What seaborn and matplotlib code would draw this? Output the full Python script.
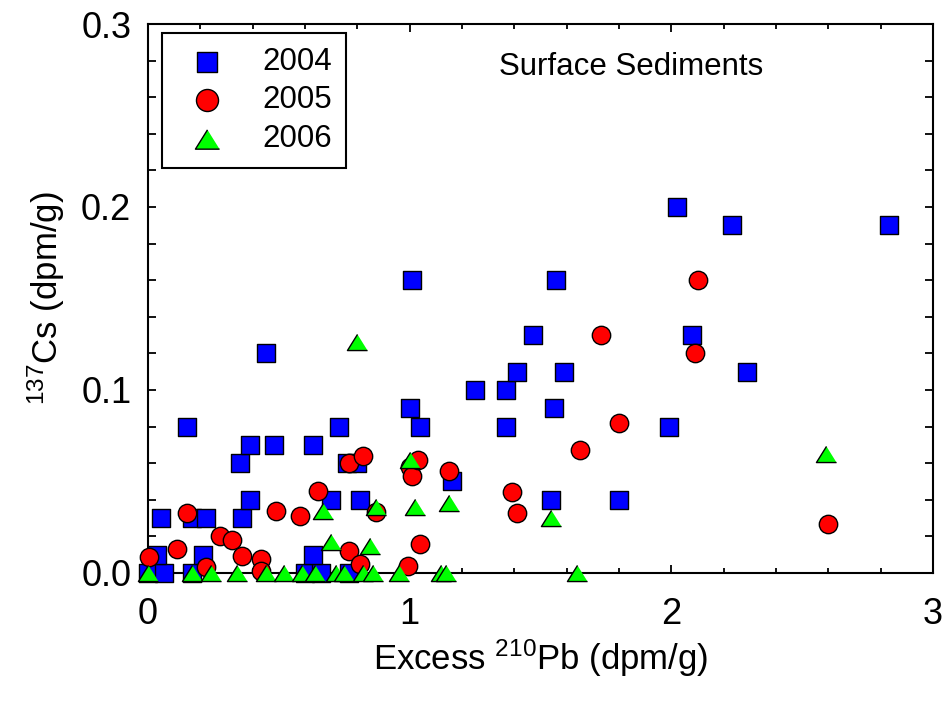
import matplotlib
matplotlib.use("Agg")
import matplotlib.pyplot as plt
import seaborn as sns
import pandas as pd
from matplotlib.ticker import MultipleLocator, FormatStrFormatter

# ---- data ----
x_2004 = [0.00, 0.06, 0.17, 0.035, 0.05, 0.15, 0.17, 0.22, 0.21, 0.35, 0.36, 0.39, 0.39, 0.45,
          0.48, 0.60, 0.66, 0.63, 0.63, 0.70, 0.73, 0.76, 0.80, 0.81, 0.77, 1.00, 1.01, 1.04,
          1.16, 1.25, 1.37, 1.37, 1.41, 1.47, 1.54, 1.55, 1.56, 1.59, 1.80, 1.99, 2.02, 2.08,
          2.23, 2.29, 2.83]
y_2004 = [0.00, 0.00, 0.00, 0.01, 0.03, 0.08, 0.03, 0.03, 0.01, 0.06, 0.03, 0.04, 0.07, 0.12,
          0.07, 0.00, 0.00, 0.01, 0.07, 0.04, 0.08, 0.06, 0.06, 0.04, 0.00, 0.09, 0.16, 0.08,
          0.05, 0.10, 0.10, 0.08, 0.11, 0.13, 0.04, 0.09, 0.16, 0.11, 0.04, 0.08, 0.20, 0.13,
          0.19, 0.11, 0.19]

x_2005 = [0.005, 0.11, 0.15, 0.22, 0.275, 0.32, 0.36, 0.43, 0.43, 0.49, 0.58, 0.65, 0.77, 0.82,
          0.87, 0.77, 0.81, 0.995, 1.00, 1.01, 1.03, 1.04, 1.15, 1.39, 1.41, 1.65, 1.73, 1.80,
          2.09, 2.10, 2.60]
y_2005 = [0.009, 0.013, 0.033, 0.003, 0.020, 0.018, 0.0095, 0.0075, 0.001, 0.034, 0.031, 0.045,
          0.060, 0.064, 0.0335, 0.012, 0.005, 0.004, 0.058, 0.053, 0.062, 0.016, 0.056, 0.044,
          0.033, 0.067, 0.130, 0.082, 0.120, 0.160, 0.027]

x_2006 = [0.00, 0.17, 0.24, 0.34, 0.45, 0.52, 0.59, 0.64, 0.72, 0.75, 0.82, 0.86, 0.96, 1.12,
          1.14, 1.64, 0.67, 0.70, 0.80, 0.85, 0.87, 1.00, 1.02, 1.15, 1.54, 2.59]
y_2006 = [0.0, 0.0, 0.0, 0.0, 0.0, 0.0, 0.0, 0.0, 0.0, 0.0, 0.0, 0.0, 0.0, 0.0,
          0.0, 0.0, 0.034, 0.017, 0.126, 0.015, 0.036, 0.062, 0.036, 0.038, 0.030, 0.065]

years = ["2004", "2005", "2006"]
x_ticks = [0, 1, 2, 3]
y_ticks = [0.0, 0.1, 0.2, 0.3]

# ---- styling ----
sns.set_style("ticks")
plt.rcParams["font.family"] = ["Liberation Sans", "DejaVu Sans"]
plt.rcParams["mathtext.fontset"] = "custom"
plt.rcParams["mathtext.rm"] = "Liberation Sans"
plt.rcParams["mathtext.it"] = "Liberation Sans:italic"
plt.rcParams["mathtext.bf"] = "Liberation Sans:bold"
for k in ["text.color", "axes.labelcolor", "xtick.color", "ytick.color", "axes.edgecolor"]:
    plt.rcParams[k] = "black"

fig = plt.figure(figsize=(9.48, 7.04), dpi=100)
ax = fig.add_axes([0.1561, 0.1861, 0.8281, 0.7798])

tri = [(0, 0.8), (-1, -0.8), (1, -0.8)]
series = [
    (x_2004, y_2004, "s", "#0000ff", 150),
    (x_2005, y_2005, "o", "#ff0000", 175),
    (x_2006, y_2006, tri, "#00ff00", 210),
]
for yr, (xs, ys, mk, col, sz) in zip(years, series):
    df = pd.DataFrame({"x": xs, "y": ys})
    sns.scatterplot(data=df, x="x", y="y", ax=ax, marker=mk, color=col, s=sz,
                    edgecolor="black", linewidth=1.0, label=yr, clip_on=False, zorder=3)

ax.set_xlim(0, 3)
ax.set_ylim(0, 0.3)
ax.set_xticks(x_ticks)
ax.set_yticks(y_ticks)
ax.xaxis.set_minor_locator(MultipleLocator(0.2))
ax.yaxis.set_minor_locator(MultipleLocator(0.02))
ax.yaxis.set_major_formatter(FormatStrFormatter("%.1f"))

for s in ax.spines.values():
    s.set_visible(True)
    s.set_linewidth(1.5)
    s.set_color("black")

ax.tick_params(axis="both", which="both", direction="in", top=True, right=True,
               color="black", labelcolor="black", width=1.3)
ax.tick_params(axis="x", which="major", length=6, labelsize=26, pad=17)
ax.tick_params(axis="x", which="minor", length=3.5)
ax.tick_params(axis="y", which="major", length=6, labelsize=26, pad=12)
ax.tick_params(axis="y", which="minor", length=5.5)

ax.set_xlabel(r"Excess $^{210}$Pb (dpm/g)", fontsize=25, labelpad=4, color="black")
ax.set_ylabel(r"$^{137}$Cs (dpm/g)", fontsize=25, labelpad=10, color="black")

ax.text(1.846, 0.272, "Surface Sediments", fontsize=22.5, ha="center", va="baseline",
        color="black")

leg = ax.legend(loc="upper left", bbox_to_anchor=(0.018, 0.984), borderaxespad=0,
                fontsize=22.5, frameon=True, fancybox=False, edgecolor="black",
                framealpha=1, borderpad=0.45, handlelength=2.0, handletextpad=0.75,
                labelspacing=0.27, scatterpoints=1, markerscale=1.2)
leg.get_frame().set_linewidth(1.5)
for t in leg.get_texts():
    t.set_color("black")

fig.savefig("out.png", dpi=100)
